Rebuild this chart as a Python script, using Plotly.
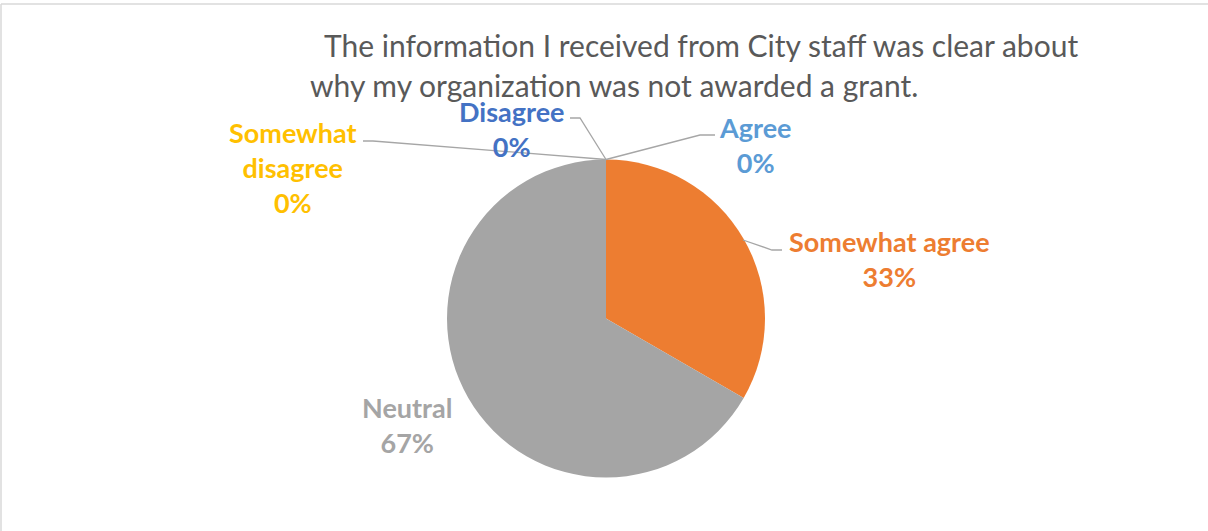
import plotly.graph_objects as go

W, H = 1208, 531

categories = ["Agree", "Somewhat agree", "Neutral", "Somewhat disagree", "Disagree"]
values = [0, 1, 2, 0, 0]
colors = ["#5B9BD5", "#ED7D31", "#A5A5A5", "#FFC000", "#4472C4"]
title_lines = ["The information I received from City staff was clear about",
               "why my organization was not awarded a grant."]

def px(x):
    return x / W

def py(y):
    return 1 - y / H

total = sum(values)
pcts = [round(v / total * 100) for v in values]

# pie geometry (pixels)
cx, cy, r = 606, 318.5, 159

fig = go.Figure(go.Pie(
    labels=categories,
    values=values,
    marker=dict(colors=colors, line=dict(width=0)),
    sort=False,
    direction="clockwise",
    rotation=0,
    textinfo="none",
    hoverinfo="label+percent",
    showlegend=False,
    domain=dict(x=[px(cx - r), px(cx + r)], y=[py(cy + r), py(cy - r)]),
))

FONT = "Lato"
LS = 27
TS = 30

label_layout = {
    "Agree": dict(x=755, y=145, text="Agree"),
    "Somewhat agree": dict(x=889, y=259, text="Somewhat agree"),
    "Neutral": dict(x=407, y=425, text="Neutral"),
    "Somewhat disagree": dict(x=293, y=168, text="Somewhat<br>disagree"),
    "Disagree": dict(x=512, y=129, text="Disagree"),
}

annotations = []
for cat, p, col in zip(categories, pcts, colors):
    L = label_layout[cat]
    annotations.append(dict(
        x=px(L["x"]), y=py(L["y"]), xref="paper", yref="paper",
        text=f"<b>{L['text']}<br>{p}%</b>", showarrow=False,
        font=dict(family=FONT, size=LS, color=col),
        align="center", xanchor="center", yanchor="middle",
    ))

annotations.append(dict(x=px(701), y=py(45), xref="paper", yref="paper",
                        text=title_lines[0], showarrow=False,
                        font=dict(family=FONT, size=TS, color="#595959"),
                        xanchor="center", yanchor="middle"))
annotations.append(dict(x=px(614), y=py(85), xref="paper", yref="paper",
                        text=title_lines[1], showarrow=False,
                        font=dict(family=FONT, size=TS, color="#595959"),
                        xanchor="center", yanchor="middle"))

top = (cx, cy - r)
leaders = [
    [top, (700, 135), (715, 135)],
    [(743, 240), (772, 250), (782, 250)],
    [top, (373, 141), (363, 141)],
    [top, (580, 118), (570, 118)],
]
shapes = []
for pts in leaders:
    path = "M " + " L ".join(f"{px(x)},{py(y)}" for x, y in pts)
    shapes.append(dict(type="path", path=path, xref="paper", yref="paper",
                       line=dict(color="#A6A6A6", width=1.3)))

shapes.append(dict(type="line", xref="paper", yref="paper",
                   x0=px(1), x1=px(1), y0=py(4), y1=0, line=dict(color="#D9D9D9", width=1.5)))
shapes.append(dict(type="line", xref="paper", yref="paper",
                   x0=px(1), x1=1, y0=py(4), y1=py(4), line=dict(color="#D9D9D9", width=1.5)))

fig.update_layout(
    width=W, height=H,
    margin=dict(l=0, r=0, t=0, b=0),
    paper_bgcolor="white", plot_bgcolor="white",
    annotations=annotations, shapes=shapes,
)

fig.write_html("out.html", config={"displayModeBar": False},
               post_script="document.body.style.margin='0';document.body.style.overflow='hidden';")
